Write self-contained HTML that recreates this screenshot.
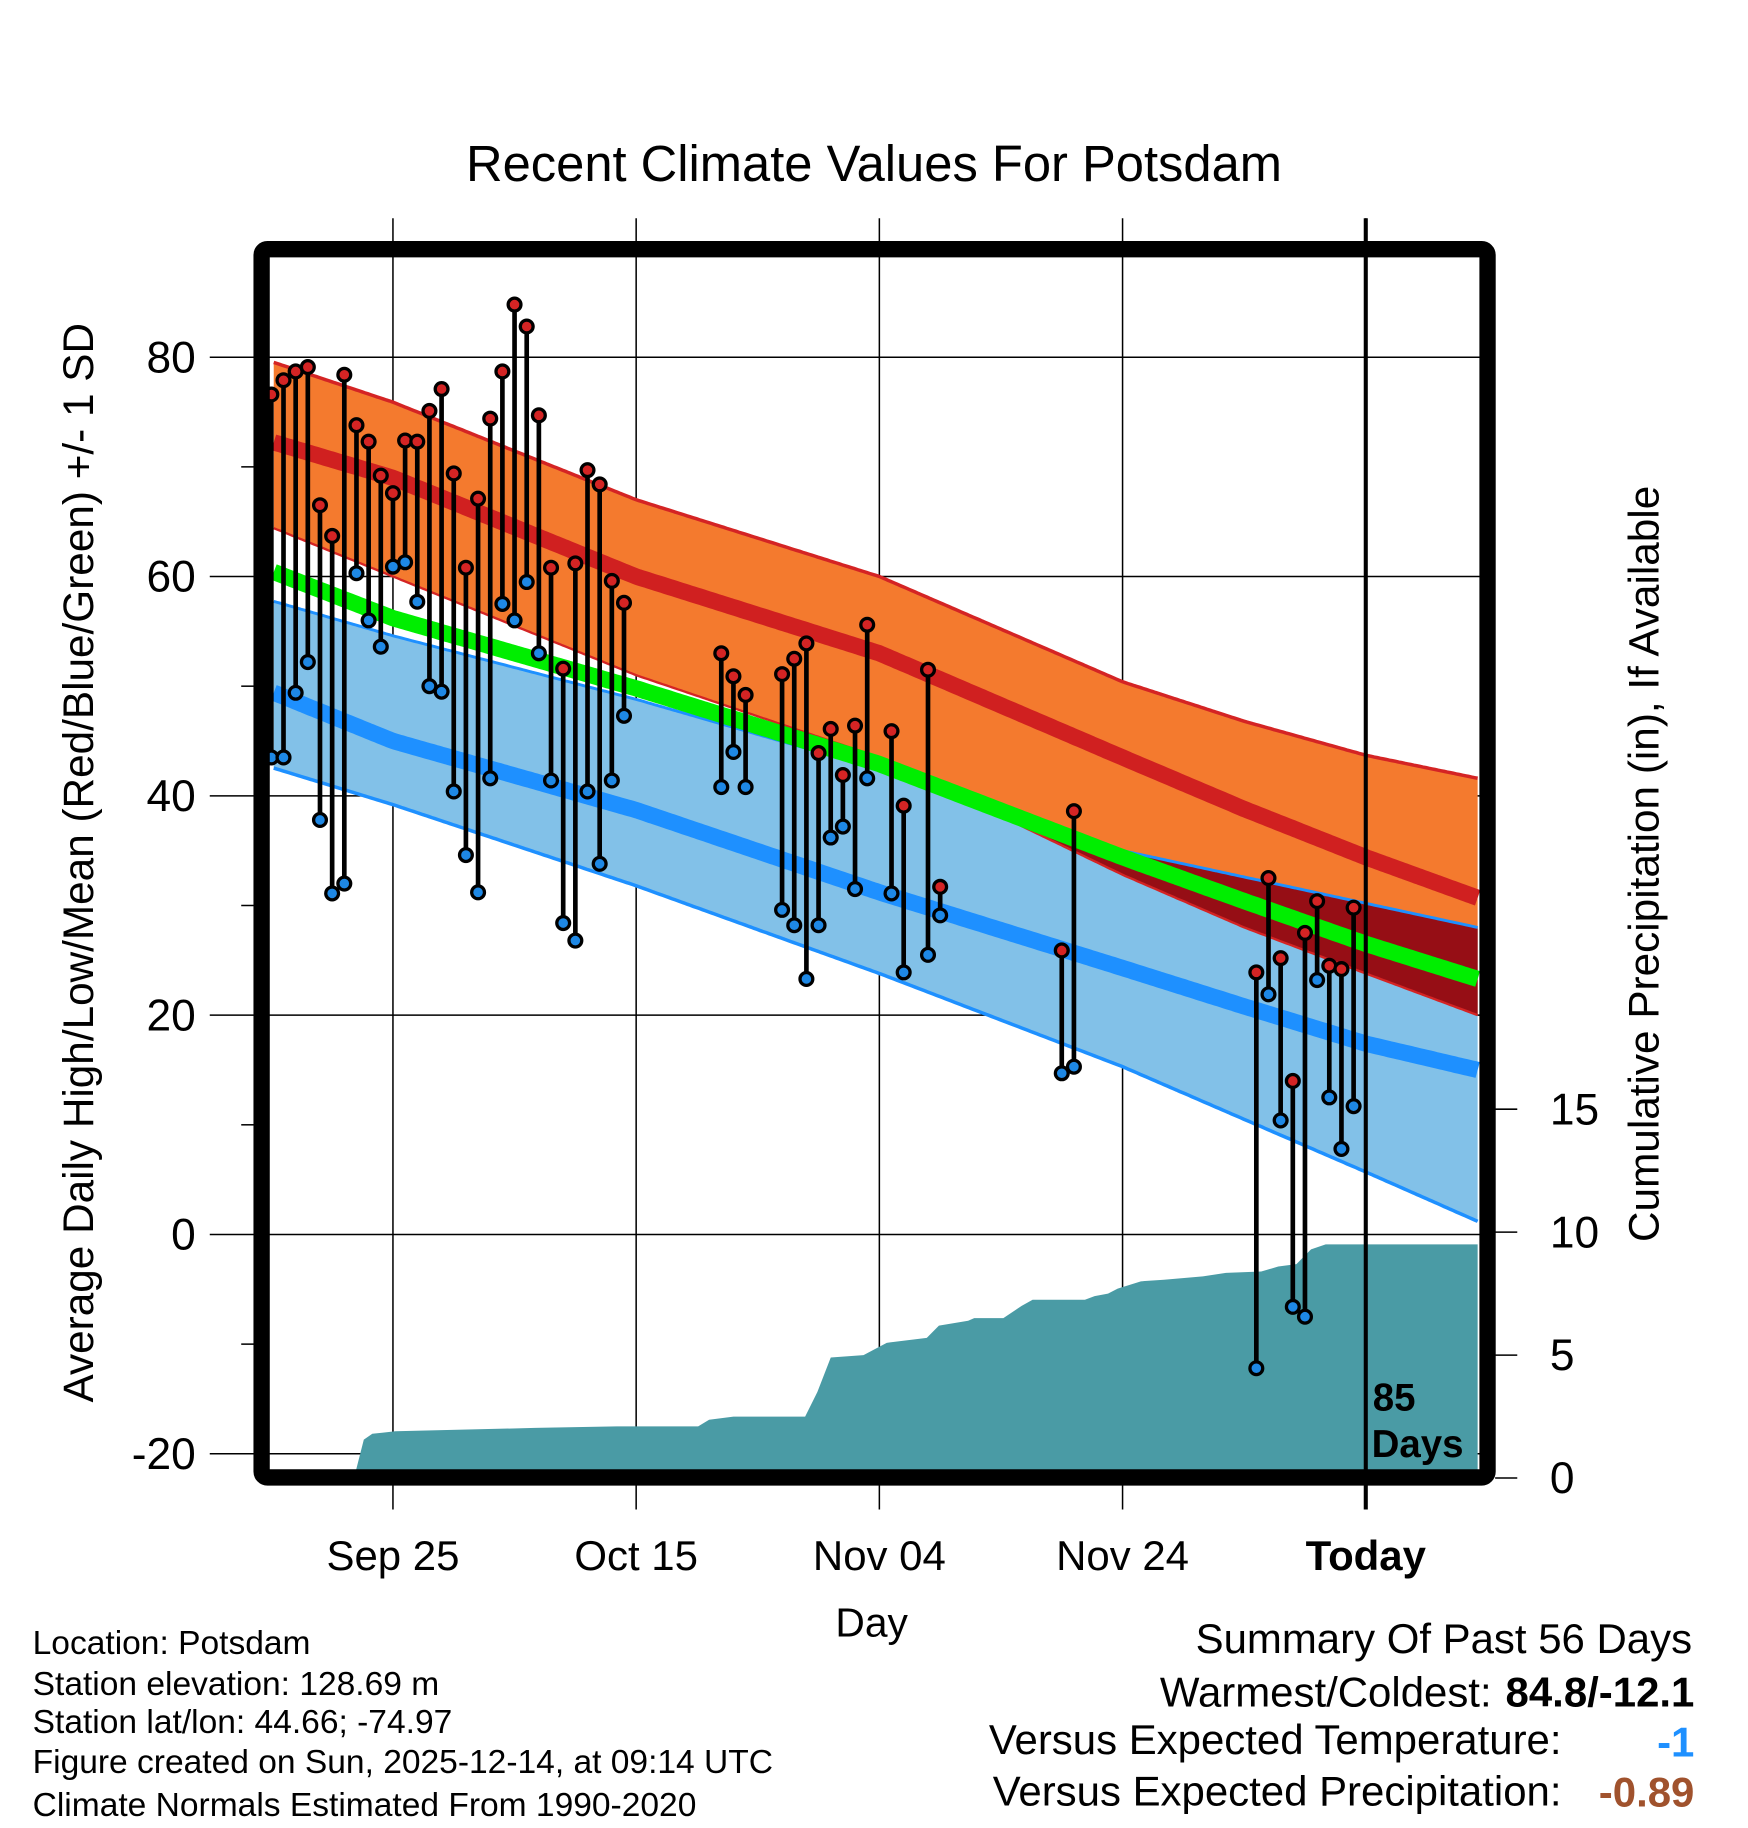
<!DOCTYPE html>
<html><head><meta charset="utf-8"><style>
html,body{margin:0;padding:0;background:#fff}
svg{display:block}
text{font-family:"Liberation Sans",sans-serif;fill:#000}
</style></head><body>
<svg id="chart" xmlns="http://www.w3.org/2000/svg" width="1748" height="1828" viewBox="0 0 1500 1568">
<rect x="0" y="0" width="1500" height="1568" fill="#fff"/>
<text x="750" y="155" font-size="43.5" text-anchor="middle">Recent Climate Values For Potsdam</text>
<g id="grid"></g>
<g id="plot"></g>
<g id="frame"></g>
<g id="axes"></g>
<text transform="translate(80,740) rotate(-90)" font-size="36.3" text-anchor="middle">Average Daily High/Low/Mean (Red/Blue/Green) +/- 1 SD</text>
<text transform="translate(1423,741) rotate(-90)" font-size="36.3" text-anchor="middle">Cumulative Precipitation (in), If Available</text>
<text x="748" y="1404" font-size="35" text-anchor="middle">Day</text>
<g font-size="28.8">
<text x="28" y="1419">Location: Potsdam</text>
<text x="28" y="1454">Station elevation: 128.69 m</text>
<text x="28" y="1487">Station lat/lon: 44.66; -74.97</text>
<text x="28" y="1521">Figure created on Sun, 2025-12-14, at 09:14 UTC</text>
<text x="28" y="1558">Climate Normals Estimated From 1990-2020</text>
</g>
<g font-size="36">
<text x="1452" y="1418" text-anchor="end">Summary Of Past 56 Days</text>
<text x="1280" y="1464" text-anchor="end">Warmest/Coldest:</text>
<text x="1454" y="1464" text-anchor="end" font-weight="bold">84.8/-12.1</text>
<text x="1340" y="1505" text-anchor="end">Versus Expected Temperature:</text>
<text x="1454" y="1507" text-anchor="end" font-weight="bold" style="fill:#1e90ff">-1</text>
<text x="1340" y="1549" text-anchor="end">Versus Expected Precipitation:</text>
<text x="1454" y="1550" text-anchor="end" font-weight="bold" style="fill:#a0522d">-0.89</text>
</g>
</svg>
<script>
// ---- data ----
const normDays = [-90, -80, -60, -40, -20, -10, 0, 9.2];
const highUpper = [79.6, 75.9, 67.0, 60.0, 50.4, 46.8, 43.7, 41.6];
const highMean = [72.3, 69.0, 60.0, 53.0, 43.5, 38.8, 34.4, 30.7];
const highLower = [64.5, 60.0, 51.0, 43.5, 32.8, 28.0, 23.8, 20.0];
const meanTemp = [60.5, 56.2, 49.8, 42.9, 34.4, 30.4, 26.5, 23.3];
const lowUpper = [57.8, 54.6, 48.8, 42.4, 35.0, 32.6, 30.2, 28.0];
const lowMean = [49.5, 45.0, 38.7, 31.2, 24.3, 20.8, 17.4, 15.0];
const lowLower = [42.6, 39.2, 31.8, 23.8, 15.3, 10.5, 5.7, 1.2];
const obsDays = [-90,-89,-88,-87,-86,-85,-84,-83,-82,-81,-80,-79,-78,-77,-76,-75,-74,-73,-72,-71,-70,-69,-68,-67,-66,-65,-64,-63,-62,-61,-53,-52,-51,-48,-47,-46,-45,-44,-43,-42,-41,-39,-38,-36,-35,-25,-24,-9,-8,-7,-6,-5,-4,-3,-2,-1];
const obsHigh = [76.6,77.9,78.7,79.1,66.5,63.7,78.4,73.8,72.3,69.2,67.6,72.4,72.3,75.1,77.1,69.4,60.8,67.1,74.4,78.7,84.8,82.8,74.7,60.8,51.6,61.2,69.7,68.4,59.6,57.6,53.0,50.9,49.2,51.1,52.5,53.9,43.9,46.1,41.9,46.4,55.6,45.9,39.1,51.5,31.7,25.9,38.6,23.9,32.5,25.2,14.0,27.5,30.4,24.5,24.2,29.8];
const obsLow = [43.5,43.5,49.4,52.2,37.8,31.1,32.0,60.3,56.0,53.6,60.9,61.3,57.7,50.0,49.5,40.4,34.6,31.2,41.6,57.5,56.0,59.5,53.0,41.4,28.4,26.8,40.4,33.8,41.4,47.3,40.8,44.0,40.8,29.6,28.2,23.3,28.2,36.2,37.2,31.5,41.6,31.1,23.9,25.5,29.1,14.7,15.3,-12.2,21.9,10.4,-6.6,-7.5,23.2,12.5,7.8,11.7];
const precipDays = [-90,-83.2,-82.4,-81.7,-79.8,-68.3,-61.6,-54.9,-54,-52,-46.1,-45.1,-44,-41.3,-39.4,-36.1,-35.1,-32.7,-32.2,-29.8,-28.3,-27.4,-23.1,-22.3,-21.2,-20.4,-18.5,-16.6,-13.4,-11.5,-8.6,-7.2,-5.7,-4.5,-3.3,0,9.2];
const precipVals = [0,0,1.56,1.8,1.9,2.04,2.1,2.1,2.37,2.5,2.5,3.5,4.9,5.0,5.5,5.7,6.2,6.4,6.5,6.5,7.0,7.25,7.25,7.4,7.5,7.7,8.0,8.06,8.2,8.34,8.4,8.6,8.7,9.3,9.5,9.5,9.5];
const yTicks = [80,60,40,20,0,-20];
const y2Ticks = [0,5,10,15];
const xTickDays = [-80,-60,-40,-20,0];
const xTickLabels = ["Sep 25","Oct 15","Nov 04","Nov 24","Today"];

// ---- scales ----
const xs = d => 1172 + d * 10.435;
const ys = v => 1059 - v * 9.41;
const yp = p => 1268 - p * 21.1;
const NS = "http://www.w3.org/2000/svg";
function mk(parent, tag, attrs) {
  const e = document.createElementNS(NS, tag);
  for (const k in attrs) e.setAttribute(k, attrs[k]);
  document.getElementById(parent).appendChild(e);
  return e;
}
function interp(arr, d) {
  for (let i = 0; i < normDays.length - 1; i++) {
    if (d <= normDays[i + 1]) {
      const t = (d - normDays[i]) / (normDays[i + 1] - normDays[i]);
      return arr[i] + t * (arr[i + 1] - arr[i]);
    }
  }
  return arr[arr.length - 1];
}
const dStart = -89.8, dEnd = 9.2;
const samples = [];
for (let d = dStart; d <= dEnd + 1e-6; d += 0.25) samples.push(d);
function linePts(arr) { return samples.map(d => xs(d).toFixed(1) + "," + ys(interp(arr, d)).toFixed(1)).join(" "); }
function bandPts(up, lo) {
  const a = samples.map(d => xs(d).toFixed(1) + "," + ys(up(d)).toFixed(1));
  const b = samples.slice().reverse().map(d => xs(d).toFixed(1) + "," + ys(lo(d)).toFixed(1));
  return a.concat(b).join(" ");
}

// ---- grid ----
yTicks.forEach(v => {
  const g = mk("grid", "line", {x1: 180, x2: 1283, y1: ys(v), y2: ys(v), stroke: "#000", "stroke-width": 1.3});
  
  
});
xTickDays.forEach(d => {
  const g = mk("grid", "line", {x1: xs(d), x2: xs(d), y1: 187, y2: 1295, stroke: "#000", "stroke-width": 1.3});
  
  
});

// ---- bands ----
let e;
e = mk("plot", "polygon", {points: bandPts(d => interp(lowUpper, d), d => interp(lowLower, d)), fill: "#82c1e8"});


e = mk("plot", "polygon", {points: bandPts(d => interp(highUpper, d), d => interp(highLower, d)), fill: "#f47a2e"});


e = mk("plot", "polygon", {points: bandPts(d => Math.max(interp(lowUpper, d), interp(highLower, d)), d => interp(highLower, d)), fill: "#960e15"});


[[highUpper, "#d42424", 3, 'high-upper-edge'], [highLower, "#d42424", 2, 'high-lower-edge'], [lowUpper, "#1e90ff", 2.5, 'low-upper-edge'], [lowLower, "#1e90ff", 3, 'low-lower-edge'],
 [meanTemp, "#00ee00", 14, 'mean-line'], [highMean, "#d02020", 14, 'high-mean-line'], [lowMean, "#1e90ff", 14, 'low-mean-line']].forEach(s => {
  const l = mk("plot", "polyline", {points: linePts(s[0]), fill: "none", stroke: s[1], "stroke-width": s[2]});
  
  
});

// ---- precipitation ----
let pp = [xs(dStart) + "," + yp(0)];
for (let i = 0; i < precipDays.length; i++) {
  const d = Math.max(precipDays[i], dStart);
  pp.push(xs(d).toFixed(1) + "," + yp(precipVals[i]).toFixed(1));
}
pp.push(xs(dEnd) + "," + yp(precipVals[precipVals.length - 1]));
pp.push(xs(dEnd) + "," + yp(0));
e = mk("plot", "polygon", {points: pp.join(" "), fill: "#4a9ba5"});



// ---- today line ----
e = mk("plot", "line", {x1: xs(0), x2: xs(0), y1: 187, y2: 1295, stroke: "#000", "stroke-width": 3.5});



// ---- observations ----
obsDays.forEach((d, i) => {
  const x = xs(d);
  const s = mk("plot", "line", {x1: x, x2: x, y1: ys(obsHigh[i]), y2: ys(obsLow[i]), stroke: "#000", "stroke-width": 4});
  
  
  const h = mk("plot", "circle", {cx: x, cy: ys(obsHigh[i]), r: 5.5, fill: "#d42424", stroke: "#000", "stroke-width": 2.8});
  
  
  const lo = mk("plot", "circle", {cx: x, cy: ys(obsLow[i]), r: 5.5, fill: "#1e88e5", stroke: "#000", "stroke-width": 2.8});
  
  
});

// ---- frame ----
e = mk("frame", "rect", {x: 224.5, y: 213.5, width: 1052, height: 1054, rx: 5, fill: "none", stroke: "#000", "stroke-width": 14});


e = mk("frame", "text", {x: 1178, y: 1210, "font-size": 33, "font-weight": "bold"});
e.textContent = "85";


e = mk("frame", "text", {x: 1177, y: 1250, "font-size": 33, "font-weight": "bold"});
e.textContent = "Days";



// ---- axes ----
yTicks.forEach(v => {
  const t = mk("axes", "text", {x: 168, y: ys(v) + 13, "font-size": 38, "text-anchor": "end"});
  t.textContent = String(v);
  
  
});
for (let v = -10; v <= 70; v += 20) {
  const m = mk("axes", "line", {x1: 207, x2: 218, y1: ys(v), y2: ys(v), stroke: "#000", "stroke-width": 1.3});
  
  
}
y2Ticks.forEach(p => {
  const m = mk("axes", "line", {x1: 1283, x2: 1302, y1: yp(p), y2: yp(p), stroke: "#000", "stroke-width": 1.3});
  
  
  const t = mk("axes", "text", {x: 1330, y: yp(p) + 13, "font-size": 38});
  t.textContent = String(p);
  
  
});
xTickDays.forEach((d, i) => {
  const t = mk("axes", "text", {x: xs(d), y: 1347, "font-size": 36, "text-anchor": "middle", "font-weight": d === 0 ? "bold" : "normal"});
  t.textContent = xTickLabels[i];
  
  
});
</script>
</body></html>
